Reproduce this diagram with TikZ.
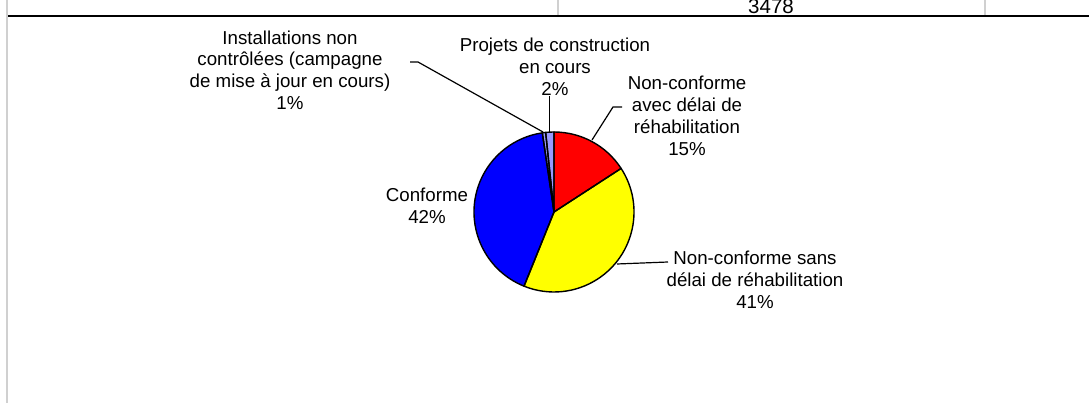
\documentclass[tikz,border=0pt]{standalone}
\usepackage{fontspec}
\setmainfont{Liberation Sans}
\definecolor{pred}{HTML}{FF0000}
\definecolor{pyellow}{HTML}{FFFF00}
\definecolor{pblue}{HTML}{0000FF}
\definecolor{plav}{HTML}{9999FF}
\definecolor{gridgray}{HTML}{D0D0D0}
\begin{document}
\begin{tikzpicture}[x=1pt,y=1pt,
  lbl/.style={align=center,inner sep=0pt,font=\fontsize{18.7}{21.8}\selectfont},
  slice/.style={draw=black,line width=1.4pt,line join=round},
  leader/.style={draw=black,line width=1.2pt}]
\useasboundingbox (0,0) rectangle (1089,403);
% table remnants
\draw[gridgray,line width=2pt] (7,0) -- (7,403);
\draw[gridgray,line width=2pt] (558.3,403) -- (558.3,387);
\draw[gridgray,line width=2pt] (985,403) -- (985,387);
\draw[black,line width=2pt] (8,387.3) -- (1089,387.3);
\node[lbl,anchor=base,font=\fontsize{20.5}{24}\selectfont] (total) at (771,389.7) {3478};
% pie
\coordinate (c) at (554,191);
\def\R{80}
\fill[pred] (c) -- ++(90:\R) arc[start angle=90,end angle=33,radius=\R] -- cycle;
\fill[pyellow] (c) -- ++(33:\R) arc[start angle=33,end angle=-112,radius=\R] -- cycle;
\fill[pblue] (c) -- ++(-112:\R) arc[start angle=-112,end angle=-261.6,radius=\R] -- cycle;
\fill[plav] (c) -- ++(-261.6:\R) arc[start angle=-261.6,end angle=-270,radius=\R] -- cycle;
\draw[slice] (c) -- ++(90:\R) arc[start angle=90,end angle=33,radius=\R] -- cycle;
\draw[slice] (c) -- ++(33:\R) arc[start angle=33,end angle=-112,radius=\R] -- cycle;
\draw[slice] (c) -- ++(-112:\R) arc[start angle=-112,end angle=-261.6,radius=\R] -- cycle;
\draw[slice] (c) -- ++(-261.6:\R) arc[start angle=-261.6,end angle=-264,radius=\R] -- cycle;
\draw[slice] (c) -- ++(-264:\R) arc[start angle=-264,end angle=-270,radius=\R] -- cycle;
% labels
\node[lbl] (inst) at (290,333) {Installations non\\contrôlées (campagne\\de mise à jour en cours)\\1\%};
\node[lbl] (proj) at (555,336) {Projets de construction\\en cours\\2\%};
\node[lbl] (ncad) at (687,287) {Non-conforme\\avec délai de\\réhabilitation\\15\%};
\node[lbl] (conf) at (427,197) {Conforme\\42\%};
\node[lbl] (ncsd) at (755,123) {Non-conforme sans\\délai de réhabilitation\\41\%};
% leader anchor points
\coordinate (instA) at (410,341);
\coordinate (instB) at (418,341);
\coordinate (instP) at (543,271);
\coordinate (projA) at (549.3,307);
\coordinate (projP) at (549.3,271);
\coordinate (ncadA) at (622,296);
\coordinate (ncadB) at (613,296);
\coordinate (ncadP) at (592,263);
\coordinate (ncsdP) at (617,139);
\coordinate (ncsdA) at (668,141);
\draw[leader] (instA) -- (instB) -- (instP);
\draw[leader] (projA) -- (projP);
\draw[leader] (ncadA) -- (ncadB) -- (ncadP);
\draw[leader] (ncsdP) -- (ncsdA);
\end{tikzpicture}
\end{document}
